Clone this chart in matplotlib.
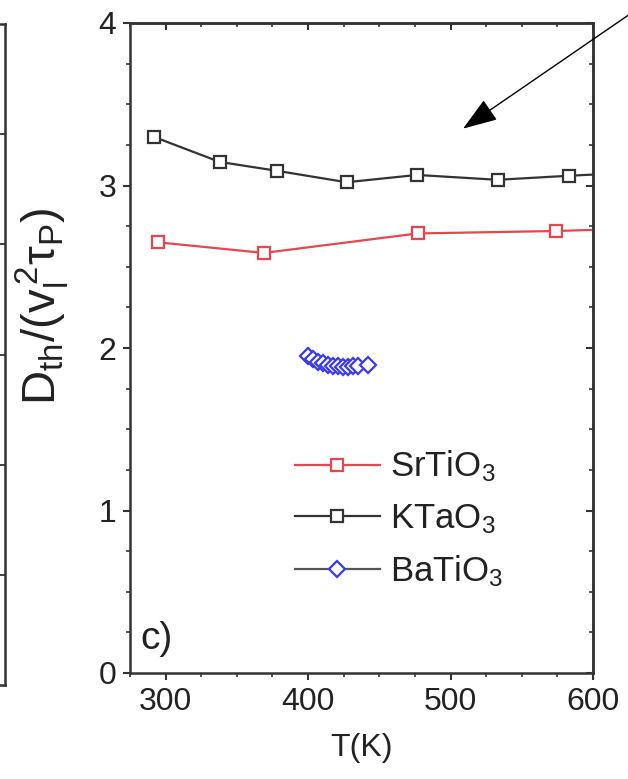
import matplotlib
matplotlib.use("Agg")
import matplotlib.pyplot as plt
from matplotlib.ticker import MultipleLocator

plt.rcParams['font.family'] = ['Liberation Sans', 'DejaVu Sans']
plt.rcParams['mathtext.fontset'] = 'custom'
plt.rcParams['mathtext.rm'] = 'Liberation Sans'
plt.rcParams['mathtext.it'] = 'Liberation Sans'
plt.rcParams['mathtext.bf'] = 'Liberation Sans:bold'

# ---- data ----
srtio3_T = [295, 369, 477, 574, 650]
srtio3_v = [2.65, 2.585, 2.705, 2.72, 2.74]

ktao3_T = [291.5, 338, 378.5, 427, 476.5, 533, 583, 630]
ktao3_v = [3.30, 3.145, 3.09, 3.02, 3.065, 3.035, 3.06, 3.08]

batio3_T = [400, 403.5, 407, 410.5, 414, 417.5, 421, 424.5, 428, 431.5, 435, 442]
batio3_v = [1.95, 1.93, 1.915, 1.905, 1.895, 1.89, 1.888, 1.886, 1.886, 1.888, 1.89, 1.895]

labels = [r'SrTiO$_3$', r'KTaO$_3$', r'BaTiO$_3$']
xticks = [300, 400, 500, 600]
yticks = [0, 1, 2, 3, 4]

W, H = 628, 779
fig = plt.figure(figsize=(W / 100, H / 100), dpi=100)

spc = '#333333'
txt = '#222222'
L, R, T, B = 130 / W, 593 / W, 1 - 23 / H, 1 - 673 / H
ax = fig.add_axes([L, B, R - L, T - B])

ax.plot(srtio3_T, srtio3_v, color='#e8464c', lw=1.6, marker='s', ms=8.5,
        mfc='white', mec='#e8464c', mew=1.6, label=labels[0])
ax.plot(ktao3_T, ktao3_v, color='#333333', lw=1.6, marker='s', ms=8.5,
        mfc='white', mec='#333333', mew=1.6, label=labels[1])
ax.plot(batio3_T, batio3_v, color='#555555', lw=1.6, marker='D', ms=8.5,
        mfc='white', mec='#3a3aee', mew=1.6, label=labels[2])

ax.set_xlim(275, 600)
ax.set_ylim(0, 4)
ax.set_xticks(xticks)
ax.set_yticks(yticks)
ax.xaxis.set_minor_locator(MultipleLocator(25))
ax.yaxis.set_minor_locator(MultipleLocator(0.25))
ax.tick_params(which='major', direction='out', length=5, width=1.5, color=spc,
               labelsize=23, labelcolor=txt, pad=5)
ax.tick_params(which='minor', direction='out', length=3, width=1.2, color=spc)
for s in ax.spines.values():
    s.set_linewidth(1.8)
    s.set_color(spc)

# mirrored inward ticks on top and right
sx = ax.secondary_xaxis('top')
sx.set_xticks(xticks)
sx.xaxis.set_minor_locator(MultipleLocator(25))
sx.tick_params(which='major', direction='in', length=5, width=1.5, color=spc, labeltop=False)
sx.tick_params(which='minor', direction='in', length=3, width=1.2, color=spc)
sx.spines['top'].set_linewidth(1.8)
sx.spines['top'].set_color(spc)
sy = ax.secondary_yaxis('right')
sy.set_yticks(yticks)
sy.yaxis.set_minor_locator(MultipleLocator(0.25))
sy.tick_params(which='major', direction='in', length=5, width=1.5, color=spc, labelright=False)
sy.tick_params(which='minor', direction='in', length=3, width=1.2, color=spc)
sy.spines['right'].set_linewidth(1.8)
sy.spines['right'].set_color(spc)

ax.set_xlabel('T(K)', fontsize=23, color=txt)
ax.xaxis.set_label_coords(0.5, -0.093)
ax.set_ylabel(r'$\mathregular{D_{th}/(v_l^{\,2}\tau_P)}$', fontsize=34, color=txt)
ax.yaxis.set_label_coords(-0.128, 0.565)

ax.text(0.022, 0.025, 'c)', transform=ax.transAxes, fontsize=28, color=txt,
        ha='left', va='bottom')

leg = ax.legend(loc='upper left', bbox_to_anchor=(0.356, 0.345), frameon=False,
                fontsize=25, handlelength=2.45, labelspacing=0.5, handletextpad=0.3,
                borderaxespad=0, borderpad=0, labelcolor=txt)

# arrow
ax.annotate('', xy=(508.8, 3.35), xytext=(645, 4.17), xycoords='data', textcoords='data',
            annotation_clip=False,
            arrowprops=dict(arrowstyle='-|>,head_length=1.08,head_width=0.38',
                            color='black', lw=1.0, shrinkA=0, shrinkB=0, mutation_scale=20))

# partial neighbouring panel at left edge
axl = fig.add_axes([-0.3, 1 - 685 / H, 0.3 + 5 / W, (685 - 24) / H])
axl.set_xlim(0, 1)
axl.set_ylim(0, 6)
axl.set_xticks([])
axl.set_yticks([1, 2, 3, 4, 5])
axl.yaxis.tick_right()
axl.tick_params(axis='y', direction='in', length=5, width=1.3, color=spc, labelright=False)
for s in axl.spines.values():
    s.set_linewidth(1.8)
    s.set_color(spc)

fig.savefig('out.png', dpi=100)
